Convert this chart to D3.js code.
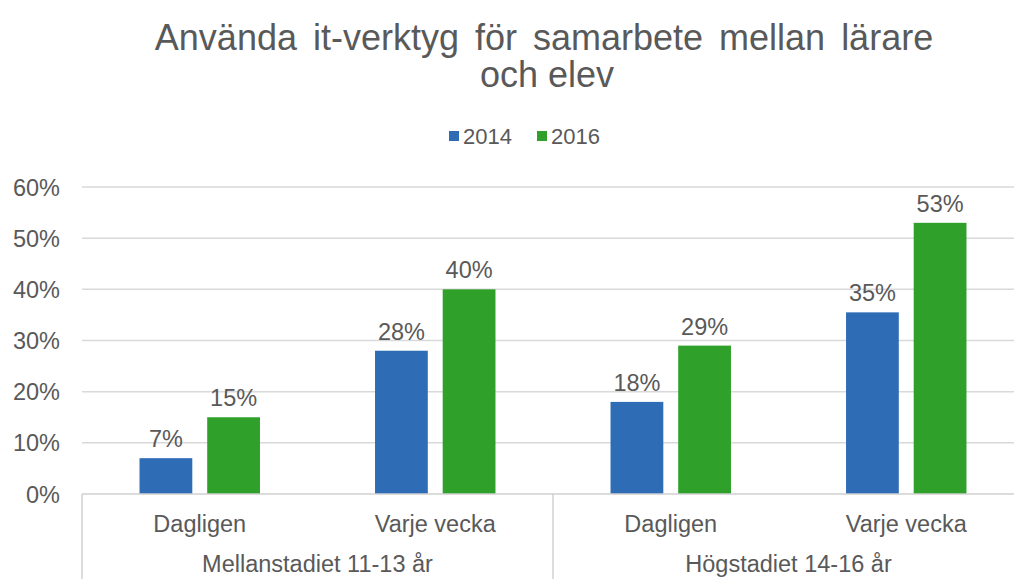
<!DOCTYPE html>
<html>
<head>
<meta charset="utf-8">
<script src="https://cdn.jsdelivr.net/npm/d3@7"></script>
<style>
  body { margin: 0; background: #fff; }
  svg { display: block; font-family: "Liberation Sans", Arial, sans-serif; }
</style>
</head>
<body>
<div id="chart"></div>
<script>
// data
var groups = ["Mellanstadiet 11-13 år", "Högstadiet 14-16 år"];
var subCats = ["Dagligen", "Varje vecka"];
var seriesNames = ["2014", "2016"];
var values2014 = [7, 28, 18, 35.5];
var values2016 = [15, 40, 29, 53];
var valueLabels2014 = ["7%", "28%", "18%", "35%"];
var valueLabels2016 = ["15%", "40%", "29%", "53%"];
var yTicks = [0, 10, 20, 30, 40, 50, 60];

var width = 1014, height = 579;
var colors = ["#2e6db5", "#2fa12b"];
var textColor = "#595959";

var svg = d3.select("#chart").append("svg")
    .attr("width", width)
    .attr("height", height);

// plot area (right side runs past the picture edge, like the original)
var plotLeft = 82, plotRight = 1024, plotTop = 187, plotBottom = 494;

// build category keys
var cats = [];
groups.forEach(function(g, gi) {
    subCats.forEach(function(s, si) {
        cats.push({ key: gi + "_" + si, group: g, sub: s, i: cats.length });
    });
});

var x = d3.scaleBand().domain(cats.map(d => d.key)).range([plotLeft, plotRight]);
var xs = d3.scaleBand().domain(seriesNames).range([0, x.bandwidth()]).paddingInner(0.22).paddingOuter(0.85);
var y = d3.scaleLinear().domain([0, 60]).range([plotBottom, plotTop]);

// title
svg.append("text")
    .attr("x", 544).attr("y", 50)
    .attr("text-anchor", "middle")
    .attr("font-size", 36)
    .attr("word-spacing", 6)
    .attr("fill", textColor)
    .text("Använda it-verktyg för samarbete mellan lärare");
svg.append("text")
    .attr("x", 547).attr("y", 87)
    .attr("text-anchor", "middle")
    .attr("font-size", 36)
    .attr("fill", textColor)
    .text("och elev");

// legend
var legendX = [449, 537];
seriesNames.forEach(function(name, i) {
    svg.append("rect")
        .attr("x", legendX[i]).attr("y", 131)
        .attr("width", 10).attr("height", 10)
        .attr("fill", colors[i]);
    svg.append("text")
        .attr("x", legendX[i] + 14).attr("y", 144)
        .attr("font-size", 22)
        .attr("fill", textColor)
        .text(name);
});

// gridlines
svg.append("g").selectAll("line")
    .data(yTicks.filter(d => d > 0))
    .enter().append("line")
    .attr("x1", plotLeft).attr("x2", plotRight)
    .attr("y1", d => y(d)).attr("y2", d => y(d))
    .attr("stroke", "#d9d9d9")
    .attr("stroke-width", 1.5);

// y tick labels
svg.append("g").selectAll("text")
    .data(yTicks)
    .enter().append("text")
    .attr("x", 60)
    .attr("y", d => y(d) + 8.5)
    .attr("text-anchor", "end")
    .attr("font-size", 23.5)
    .attr("fill", textColor)
    .text(d => d + "%");

// bars
var series = [values2014, values2016];
var labels = [valueLabels2014, valueLabels2016];
series.forEach(function(vals, si) {
    svg.append("g").selectAll("rect")
        .data(cats)
        .enter().append("rect")
        .attr("x", d => x(d.key) + xs(seriesNames[si]))
        .attr("y", d => y(vals[d.i]))
        .attr("width", xs.bandwidth())
        .attr("height", d => plotBottom - y(vals[d.i]))
        .attr("fill", colors[si]);
    svg.append("g").selectAll("text")
        .data(cats)
        .enter().append("text")
        .attr("x", d => x(d.key) + xs(seriesNames[si]) + xs.bandwidth() / 2)
        .attr("y", d => y(vals[d.i]) - 11)
        .attr("text-anchor", "middle")
        .attr("font-size", 23.5)
        .attr("fill", textColor)
        .text(d => labels[si][d.i]);
});

// baseline and multi-level axis lines
svg.append("line")
    .attr("x1", plotLeft).attr("x2", plotRight)
    .attr("y1", plotBottom).attr("y2", plotBottom)
    .attr("stroke", "#d0d0d0").attr("stroke-width", 1.5);
var groupEdges = [plotLeft, x(cats[2].key)];
svg.append("g").selectAll("line")
    .data(groupEdges)
    .enter().append("line")
    .attr("x1", d => d).attr("x2", d => d)
    .attr("y1", plotBottom).attr("y2", height)
    .attr("stroke", "#d0d0d0").attr("stroke-width", 1.5);

// category labels
svg.append("g").selectAll("text")
    .data(cats)
    .enter().append("text")
    .attr("x", d => x(d.key) + x.bandwidth() / 2)
    .attr("y", 532)
    .attr("text-anchor", "middle")
    .attr("font-size", 23.5)
    .attr("fill", textColor)
    .text(d => d.sub);

svg.append("g").selectAll("text")
    .data(groups)
    .enter().append("text")
    .attr("x", (d, gi) => (x(gi + "_0") + x(gi + "_1") + x.bandwidth()) / 2)
    .attr("y", 572)
    .attr("text-anchor", "middle")
    .attr("font-size", 23.5)
    .attr("fill", textColor)
    .text(d => d);
</script>
</body>
</html>
